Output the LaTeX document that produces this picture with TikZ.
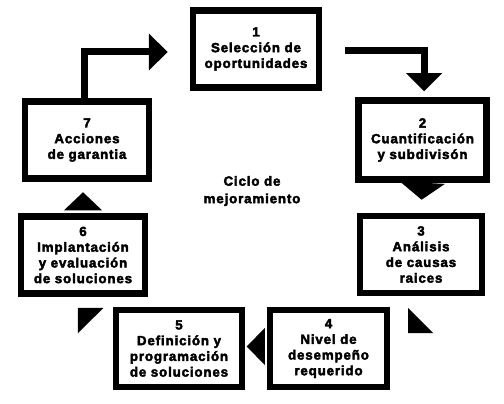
\documentclass[tikz,border=0pt]{standalone}
\usepackage{fontspec}
\setmainfont{Liberation Sans}[LetterSpace=6.5, BoldFeatures={FakeBold=3}]
\usetikzlibrary{arrows.meta, decorations.markings}
\tikzstyle{rect} = [draw, rectangle, line width=6.5pt, fill=white, minimum height=77pt, align=center, inner sep=0pt, font=\fontsize{13.3}{15.7}\selectfont\bfseries]
\tikzstyle{line} = [draw, line width=7pt]
\tikzset{
  head/.style 2 args={postaction={decorate}, decoration={markings, mark=at position #1 with {\arrow{Triangle[#2, line width=0pt]}}}}
}

\begin{document}
\begin{tikzpicture}[x=1pt, y=-1pt]
	\useasboundingbox (0,0) rectangle (504,404);

	\node [rect, minimum width=126pt] (selec) at (256,49) {1\\Selección de\\oportunidades};
	\node [rect, minimum width=128pt, minimum height=79pt] (cuant) at (422.5,140) {2\\Cuantificación\\y subdivisón};
	\node [rect, minimum width=122pt] (analisis) at (421,254.5) {3\\Análisis\\de causas\\raices};
	\node [rect, minimum width=117pt] (nivel) at (328.5,348.5) {4\\Nivel de\\desempeño\\requerido};
	\node [rect, minimum width=126pt] (defin) at (179,348.5) {5\\Definición y\\programación\\de soluciones};
	\node [rect, minimum width=124pt] (implan) at (83,255) {6\\Implantación\\y evaluación\\de soluciones};
	\node [rect, minimum width=124pt] (acciones) at (87,140) {7\\Acciones\\de garantia};

	\node [align=center, font=\fontsize{13.3}{17.5}\selectfont\bfseries] (ciclo) at (252,191) {Ciclo de\\mejoramiento};

	\path [line, -{Triangle[width=37pt, length=19pt, line width=0pt]}] ([xshift=-3pt]acciones.north) |- ([xshift=-22pt, yshift=-3pt]selec.west);
	\path [line, -{Triangle[width=36pt, length=18pt, line width=0pt]}] ([xshift=23pt, yshift=-1.5pt]selec.east) -| ([xshift=1.5pt, yshift=6pt]cuant.north);
	\path [head={17pt}{width=45pt, length=17pt}] (cuant.south) -- (analisis.north);
	\path [head={52.3pt}{width=36pt, length=18pt}] ([xshift=24pt]analisis.south) -- ([yshift=-2.5pt]nivel.east);
	\path [head={20pt}{width=37pt, length=18pt}] ([yshift=2pt]nivel.west) -- ([yshift=2pt]defin.east);
	\path [head={49.5pt}{width=36pt, length=18pt}] ([yshift=5.5pt]defin.west) -- ([xshift=-16pt]implan.south);
	\path [head={21pt}{width=38pt, length=18pt}] (implan.north) -- ([xshift=-4pt]acciones.south);
\end{tikzpicture}
\end{document}
